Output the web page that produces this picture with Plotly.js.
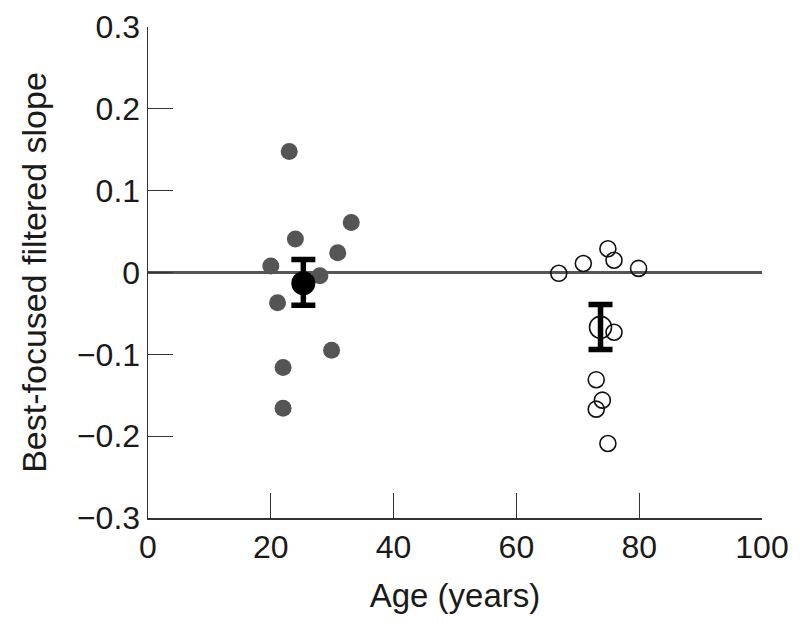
<!DOCTYPE html>
<html>
<head>
<meta charset="utf-8">
<script src="https://cdn.plot.ly/plotly-3.0.1.min.js"></script>
<style>html,body{margin:0;padding:0;background:#fff;}#chart{width:800px;height:634px;}</style>
</head>
<body>
<div id="chart"></div>
<script>
// Young subjects (filled)
const youngAge   = [23, 33.1, 24, 30.9, 20, 28, 21.1, 29.9, 22, 22];
const youngSlope = [0.148, 0.061, 0.041, 0.024, 0.008, -0.004, -0.037, -0.095, -0.116, -0.166];
// Older subjects (open)
const oldAge   = [74.9, 75.9, 70.9, 66.9, 79.9, 75.9, 73.0, 74.0, 73.0, 74.9];
const oldSlope = [0.029, 0.015, 0.011, -0.001, 0.005, -0.073, -0.131, -0.156, -0.167, -0.209];
// Group means with error bars
const youngMeanAge = [25.3], youngMean = [-0.013], youngErrPlus = [0.029], youngErrMinus = [0.027];
const oldMeanAge = [73.7], oldMean = [-0.067], oldErrPlus = [0.028], oldErrMinus = [0.027];
// Reference line
const zeroX = [0, 100], zeroY = [0, 0];

const font = 'Liberation Sans, Arial, Helvetica, sans-serif';

const traces = [
  {x: zeroX, y: zeroY, mode: 'lines', line: {color: '#555', width: 3}, hoverinfo: 'skip', showlegend: false},
  {x: youngAge, y: youngSlope, mode: 'markers', type: 'scatter',
   marker: {color: '#555', size: 17, line: {width: 0}}, showlegend: false},
  {x: oldAge, y: oldSlope, mode: 'markers', type: 'scatter',
   marker: {color: 'rgba(0,0,0,0)', size: 16, line: {color: '#111', width: 1.6}}, showlegend: false},
  {x: youngMeanAge, y: youngMean, mode: 'markers', type: 'scatter',
   marker: {color: '#000', size: 24},
   error_y: {type: 'data', symmetric: false, array: youngErrPlus, arrayminus: youngErrMinus,
             color: '#000', thickness: 5.5, width: 12}, showlegend: false},
  {x: oldMeanAge, y: oldMean, mode: 'markers', type: 'scatter',
   marker: {color: 'rgba(0,0,0,0)', size: 22, line: {color: '#111', width: 1.6}},
   error_y: {type: 'data', symmetric: false, array: oldErrPlus, arrayminus: oldErrMinus,
             color: '#000', thickness: 5.5, width: 12}, showlegend: false}
];

const layout = {
  width: 800, height: 634,
  margin: {l: 148, r: 38, t: 27, b: 116},
  paper_bgcolor: '#fff', plot_bgcolor: '#fff',
  font: {family: font, color: '#1a1a1a', size: 32},
  xaxis: {
    range: [0, 100], dtick: 20, tick0: 0,
    showgrid: false, zeroline: false,
    showline: true, linecolor: '#333', linewidth: 1.5,
    ticks: 'inside', ticklen: 25, tickwidth: 1.2, tickcolor: '#333',
    tickfont: {family: font, size: 32, color: '#1a1a1a'},
    title: {text: 'Age (years)', font: {family: font, size: 33, color: '#1a1a1a'}, standoff: 20}
  },
  yaxis: {
    range: [-0.3, 0.3], dtick: 0.1, tick0: -0.3,
    showgrid: false, zeroline: false,
    showline: true, linecolor: '#333', linewidth: 1.5,
    ticks: 'inside', ticklen: 25, tickwidth: 1.2, tickcolor: '#333',
    tickfont: {family: font, size: 32, color: '#1a1a1a'},
    title: {text: 'Best-focused filtered slope', font: {family: font, size: 34, color: '#1a1a1a'}, standoff: 20}
  }
};

Plotly.newPlot('chart', traces, layout, {displayModeBar: false, staticPlot: true});
</script>
</body>
</html>
